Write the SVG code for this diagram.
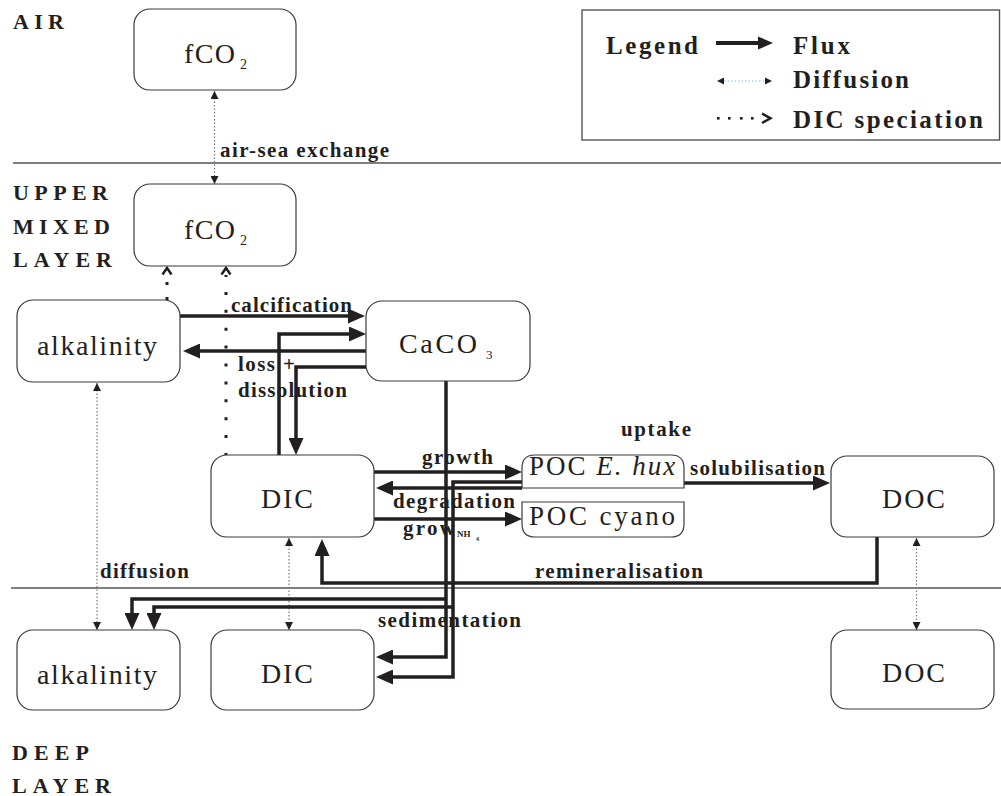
<svg xmlns="http://www.w3.org/2000/svg" width="1001" height="796" viewBox="0 0 1001 796">
<defs>
<style>
.box{fill:#fff;stroke:#3a3a3a;stroke-width:1.2}
.sep{fill:none;stroke:#555;stroke-width:1.4}
.node{font-family:"Liberation Serif","Times New Roman",serif;font-size:28px;fill:#231f20}
.poc{font-family:"Liberation Serif","Times New Roman",serif;font-size:27px;fill:#231f20}
.sub{font-family:"Liberation Serif","Times New Roman",serif;font-size:14px;fill:#231f20}
.sub3{font-family:"Liberation Serif","Times New Roman",serif;font-size:13px;fill:#231f20}
.lbl{font-family:"Liberation Serif","Times New Roman",serif;font-size:21px;font-weight:bold;fill:#231f20}
.lsub{font-family:"Liberation Serif","Times New Roman",serif;font-size:9px;font-weight:bold;fill:#231f20}
.lsub2{font-family:"Liberation Serif","Times New Roman",serif;font-size:6px;font-weight:bold;fill:#231f20}
.layer{font-family:"Liberation Serif","Times New Roman",serif;font-size:22px;font-weight:bold;fill:#231f20}
.leg{font-family:"Liberation Serif","Times New Roman",serif;font-size:25px;font-weight:bold;fill:#231f20}
.flux{fill:none;stroke:#231f20;stroke-width:3.5;marker-end:url(#ah)}
.diff{fill:none;stroke:#777;stroke-width:1.2;stroke-dasharray:1.5 2;marker-start:url(#dh);marker-end:url(#dh)}
.spec{fill:none;stroke:#231f20;stroke-width:3}
.chev{fill:none;stroke:#231f20;stroke-width:2.5}
</style>
<marker id="ah" markerUnits="userSpaceOnUse" viewBox="0 0 17 15" markerWidth="17" markerHeight="15" refX="0" refY="7.5" orient="auto"><path d="M0,0 L17,7.5 L0,15 z" fill="#231f20"/></marker>
<marker id="dh" markerUnits="userSpaceOnUse" viewBox="0 0 8 8" markerWidth="8" markerHeight="8" refX="8" refY="4" orient="auto-start-reverse"><path d="M0,0 L8,4 L0,8 z" fill="#231f20"/></marker>
</defs>
<rect width="1001" height="796" fill="#fff"/>

<g id="layers">
<path class="sep" d="M13,163 H1001"/>
<path class="sep" d="M11,588 H1001"/>
<text class="layer" x="13" y="29" textLength="51" lengthAdjust="spacing">AIR</text>
<text class="layer" x="13" y="200" textLength="95" lengthAdjust="spacing">UPPER</text>
<text class="layer" x="13" y="234" textLength="97" lengthAdjust="spacing">MIXED</text>
<text class="layer" x="13" y="267" textLength="99" lengthAdjust="spacing">LAYER</text>
<text class="layer" x="12" y="760" textLength="77" lengthAdjust="spacing">DEEP</text>
<text class="layer" x="12" y="793" textLength="99" lengthAdjust="spacing">LAYER</text>
</g>

<g id="legend">
<rect x="582" y="10" width="417.5" height="130" fill="#fff" stroke="#555" stroke-width="1.4"/>
<text class="leg" x="606" y="54" textLength="92" lengthAdjust="spacing">Legend</text>
<path d="M716,43 H759" stroke="#231f20" stroke-width="4" fill="none"/>
<polygon points="758,36.5 773,43 758,49.5" fill="#231f20"/>
<text class="leg" x="793" y="54" textLength="57" lengthAdjust="spacing">Flux</text>
<path d="M724,81 H765" stroke="#6cc8d8" stroke-width="1.2" stroke-dasharray="1.5 2" fill="none"/>
<polygon points="717,81 724,77.5 724,84.5" fill="#231f20"/>
<polygon points="772,81 765,77.5 765,84.5" fill="#231f20"/>
<text class="leg" x="793" y="88" textLength="116" lengthAdjust="spacing">Diffusion</text>
<rect x="717" y="117" width="2.6" height="2.6" fill="#231f20"/>
<rect x="728" y="117" width="2.6" height="2.6" fill="#231f20"/>
<rect x="740" y="117" width="2.6" height="2.6" fill="#231f20"/>
<rect x="751" y="117" width="2.6" height="2.6" fill="#231f20"/>
<polyline class="chev" points="762,113.5 770.5,118.3 762,123"/>
<text class="leg" x="793" y="128" textLength="190" lengthAdjust="spacing">DIC speciation</text>
</g>

<g id="connectors">
<path class="diff" d="M214.5,91 V184"/>
<path class="diff" d="M97,383 V630"/>
<path class="diff" d="M289,538 V630"/>
<path class="diff" d="M916.5,538 V630"/>
<path class="spec" d="M167,300 V281" stroke-dasharray="3 12"/>
<polyline class="chev" points="162.5,274.5 167,268 171.5,274.5"/>
<path class="spec" d="M226,456 V275" stroke-dasharray="3 14.9"/>
<polyline class="chev" points="221.5,274.5 226,268 230.5,274.5"/>
<path class="flux" d="M180,316 H348"/>
<path class="flux" d="M279,455 V334 H349"/>
<path class="flux" d="M366,351 H200"/>
<path class="flux" d="M366,367 H296 V438"/>
<path class="flux" d="M374,472 H505"/>
<path class="flux" d="M522,488 H393"/>
<path class="flux" d="M374,519 H505"/>
<path class="flux" d="M684,483 H813"/>
<path class="flux" d="M877,537 V583 H322 V556"/>
<path class="flux" d="M446,381 V657 H393"/>
<path class="flux" d="M446,599 H132 V613"/>
<path class="flux" d="M522,482 H453 V677 H393"/>
<path class="flux" d="M453,607 H154 V613"/>
<text class="lbl" x="220" y="157" textLength="169" lengthAdjust="spacing">air-sea exchange</text>
<text class="lbl" x="231" y="312" textLength="121" lengthAdjust="spacing">calcification</text>
<text class="lbl" x="238" y="371" textLength="57" lengthAdjust="spacing">loss +</text>
<text class="lbl" x="238" y="397" textLength="109" lengthAdjust="spacing">dissolution</text>
<text class="lbl" x="422" y="464" textLength="71" lengthAdjust="spacing">growth</text>
<text class="lbl" x="393" y="508" textLength="122" lengthAdjust="spacing">degradation</text>
<text class="lbl" x="403" y="535" textLength="52" lengthAdjust="spacing">grow</text>
<text class="lsub" x="457" y="537">NH</text>
<text class="lsub2" x="476" y="541">4</text>
<text class="lbl" x="621" y="436" textLength="70" lengthAdjust="spacing">uptake</text>
<text class="lbl" x="690" y="475" textLength="135" lengthAdjust="spacing">solubilisation</text>
<text class="lbl" x="535" y="578" textLength="168" lengthAdjust="spacing">remineralisation</text>
<text class="lbl" x="100" y="578" textLength="89" lengthAdjust="spacing">diffusion</text>
<text class="lbl" x="378" y="627" textLength="143" lengthAdjust="spacing">sedimentation</text>
</g>

<g id="fco2-air">
<rect class="box" x="134" y="9" width="162" height="81" rx="16"/>
<text class="node" x="184" y="63" textLength="51" lengthAdjust="spacing">fCO</text>
<text class="sub" x="240" y="69">2</text>
</g>
<g id="fco2-upper">
<rect class="box" x="134" y="184" width="162" height="82" rx="16"/>
<text class="node" x="184" y="239" textLength="51" lengthAdjust="spacing">fCO</text>
<text class="sub" x="240" y="245">2</text>
</g>
<g id="alk-upper">
<rect class="box" x="17" y="300" width="163" height="82" rx="16"/>
<text class="node" x="37" y="355" textLength="120" lengthAdjust="spacing">alkalinity</text>
</g>
<g id="caco3">
<rect class="box" x="366" y="301" width="164" height="80" rx="16"/>
<text class="node" x="399" y="353" textLength="78" lengthAdjust="spacing">CaCO</text>
<text class="sub3" x="486" y="359">3</text>
</g>
<g id="dic-upper">
<rect class="box" x="211" y="455" width="163" height="82" rx="16"/>
<text class="node" x="261" y="508" textLength="52" lengthAdjust="spacing">DIC</text>
</g>
<g id="poc-ehux">
<path class="box" d="M522,488 V468 Q522,455 535,455 H671 Q684,455 684,468 V488 Z"/>
<text class="poc" x="529" y="475" letter-spacing="2">POC <tspan font-style="italic">E. hux</tspan></text>
</g>
<g id="poc-cyano">
<path class="box" d="M522,502 H684 V524 Q684,537 671,537 H535 Q522,537 522,524 Z"/>
<text class="poc" x="529" y="525" textLength="146" lengthAdjust="spacing">POC cyano</text>
</g>
<g id="doc-upper">
<rect class="box" x="831" y="456" width="163" height="81" rx="16"/>
<text class="node" x="882" y="508" textLength="63" lengthAdjust="spacing">DOC</text>
</g>
<g id="alk-deep">
<rect class="box" x="17" y="630" width="163" height="80" rx="16"/>
<text class="node" x="37" y="684" textLength="120" lengthAdjust="spacing">alkalinity</text>
</g>
<g id="dic-deep">
<rect class="box" x="211" y="630" width="163" height="80" rx="16"/>
<text class="node" x="261" y="683" textLength="52" lengthAdjust="spacing">DIC</text>
</g>
<g id="doc-deep">
<rect class="box" x="831" y="630" width="163" height="79" rx="16"/>
<text class="node" x="882" y="682" textLength="63" lengthAdjust="spacing">DOC</text>
</g>
</svg>
